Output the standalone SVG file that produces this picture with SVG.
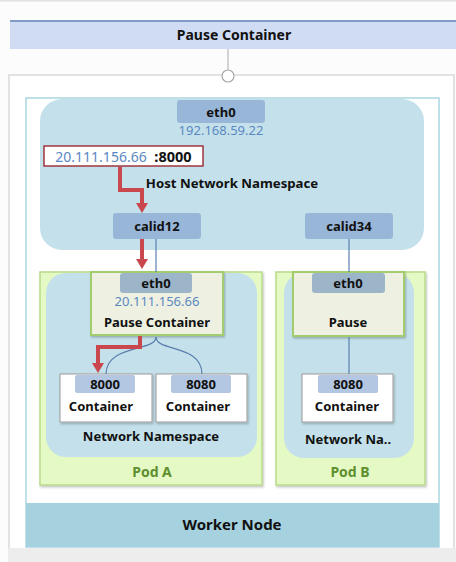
<svg xmlns="http://www.w3.org/2000/svg" width="456" height="562" viewBox="0 0 456 562">
<style>
text{font-family:"Noto Sans","Open Sans","Liberation Sans",sans-serif;text-anchor:middle;fill:#111}
.b{font-weight:bold;font-size:13px}
.ip{font-size:13px;fill:#5b88c2}
.pod{font-weight:bold;font-size:14px;fill:#5e8f2f}
.tab{fill:#98b6d8}
.tab2{fill:#9cb5c9}
.tab3{fill:#b3c6e2}
.ns{fill:#c4e1eb}
.podbox{fill:#e4f9c4;stroke:#b9db8a;stroke-width:1.5}
.pause{fill:#eef1e1;stroke:#a2cc6e;stroke-width:2}
.cont{fill:#fff;stroke:#a8a8a8;stroke-width:1.2}
.ln{fill:none;stroke:#5a7fae;stroke-width:1.2}
.red{fill:none;stroke:#c9474d;stroke-width:4;stroke-linejoin:miter}
</style>
<defs>
<marker id="ah" markerUnits="userSpaceOnUse" markerWidth="12" markerHeight="12" viewBox="0 0 10 12" refX="0" refY="6" orient="auto">
<path d="M0,0 L10,6 L0,12 z" fill="#c9474d"/>
</marker>
<filter id="sh" x="-10%" y="-10%" width="120%" height="120%">
<feDropShadow dx="1" dy="1.5" stdDeviation="1" flood-color="#000" flood-opacity="0.25"/>
</filter>
</defs>
<rect width="456" height="562" fill="#fcfcfc"/>
<rect x="0" y="0" width="456" height="1.5" fill="#e2e2e2"/>
<g id="pause-top">
<rect x="10" y="20" width="446" height="29" fill="#d0dcf3"/>
<rect x="10" y="20" width="446" height="2" fill="#7f9bc6"/>
<text x="234" y="40" class="b" style="font-size:14px">Pause Container</text>
</g>
<g id="outer-frame">
<rect x="9" y="75" width="445" height="490" fill="#fff" stroke="#e2e2e2" stroke-width="2"/>
<rect x="8" y="548" width="448" height="14" fill="#ededed"/>
</g>
<g id="worker-node">
<rect x="26" y="98" width="413" height="449" fill="#fff" stroke="#acd6e2" stroke-width="1.5"/>
<rect x="26" y="503" width="413" height="44" fill="#a6d1de"/>
<text x="232" y="530" class="b" style="font-size:15px">Worker Node</text>
</g>
<g id="host-ns">
<rect x="40" y="99" width="384" height="151" rx="22" class="ns"/>
<text x="232" y="188" class="b" style="font-size:13.2px">Host Network Namespace</text>
</g>
<g id="host-eth0">
<rect x="177" y="100" width="88" height="23" rx="3" class="tab"/>
<text x="221" y="117" class="b">eth0</text>
<text x="221" y="135" class="ip">192.168.59.22</text>
</g>
<g id="address">
<rect x="44" y="146" width="159" height="20" fill="#fff" stroke="#a0343c" stroke-width="1.5"/>
<text x="101" y="161.5" class="ip" style="font-size:14px">20.111.156.66</text>
<text x="173" y="161.5" class="b" style="font-size:14.5px">:8000</text>
</g>
<g id="calid12">
<rect x="113" y="213" width="88" height="26" rx="3" class="tab"/>
<text x="157" y="231" class="b">calid12</text>
</g>
<g id="calid34">
<rect x="305" y="213" width="88" height="26" rx="3" class="tab"/>
<text x="349" y="231" class="b">calid34</text>
</g>
<g id="pod-a">
<rect x="40" y="272" width="222" height="213" class="podbox" filter="url(#sh)"/>
<rect x="46" y="273" width="211" height="184" rx="20" class="ns"/>
<text x="151" y="441" class="b">Network Namespace</text>
<text x="152" y="477" class="pod">Pod A</text>
</g>
<g id="pause-a">
<rect x="91" y="272" width="132" height="63" class="pause" filter="url(#sh)"/>
<rect x="120" y="273" width="72" height="20" rx="3" class="tab2"/>
<text x="156" y="288" class="b">eth0</text>
<text x="157" y="306" class="ip">20.111.156.66</text>
<text x="157" y="327" class="b">Pause Container</text>
</g>
<g id="container-8000">
<rect x="60" y="374" width="92" height="48" class="cont" filter="url(#sh)"/>
<rect x="75" y="375" width="60" height="18" rx="2" class="tab3"/>
<text x="105" y="389" class="b">8000</text>
<text x="101" y="411" class="b">Container</text>
</g>
<g id="container-8080a">
<rect x="156" y="374" width="91" height="48" class="cont" filter="url(#sh)"/>
<rect x="171" y="375" width="60" height="18" rx="2" class="tab3"/>
<text x="201" y="389" class="b">8080</text>
<text x="198" y="411" class="b">Container</text>
</g>
<g id="pod-b">
<rect x="276" y="272" width="149" height="213" class="podbox" filter="url(#sh)"/>
<rect x="284" y="273" width="130" height="185" rx="20" class="ns"/>
<text x="348" y="444" class="b">Network Na..</text>
<text x="350" y="477" class="pod">Pod B</text>
</g>
<g id="pause-b">
<rect x="293" y="272" width="111" height="64" class="pause" filter="url(#sh)"/>
<rect x="312" y="273" width="73" height="20" rx="3" class="tab2"/>
<text x="348" y="288" class="b">eth0</text>
<text x="348" y="327" class="b">Pause</text>
</g>
<g id="container-8080b">
<rect x="302" y="374" width="91" height="48" class="cont" filter="url(#sh)"/>
<rect x="318" y="375" width="60" height="18" rx="2" class="tab3"/>
<text x="348" y="389" class="b">8080</text>
<text x="347" y="411" class="b">Container</text>
</g>
<g id="connectors">
<line x1="228" y1="49" x2="228" y2="70" stroke="#b8b8b8" stroke-width="1.2"/>
<circle cx="228" cy="76" r="6" fill="#fff" stroke="#a8a8a8" stroke-width="1.2"/>
<line x1="156" y1="239" x2="156" y2="272" class="ln"/>
<line x1="349" y1="239" x2="349" y2="272" class="ln"/>
<line x1="349" y1="337" x2="349" y2="374" class="ln"/>
<path d="M156,337 C156,352 106,344 106,374" class="ln"/>
<path d="M156,337 C156,352 202,344 202,374" class="ln"/>
<path d="M120,167 V190 H142 V203" class="red" marker-end="url(#ah)"/>
<path d="M142,239 V259" class="red" marker-end="url(#ah)"/>
<path d="M140,336 V347 H98 V363" class="red" marker-end="url(#ah)"/>
</g>
</svg>
